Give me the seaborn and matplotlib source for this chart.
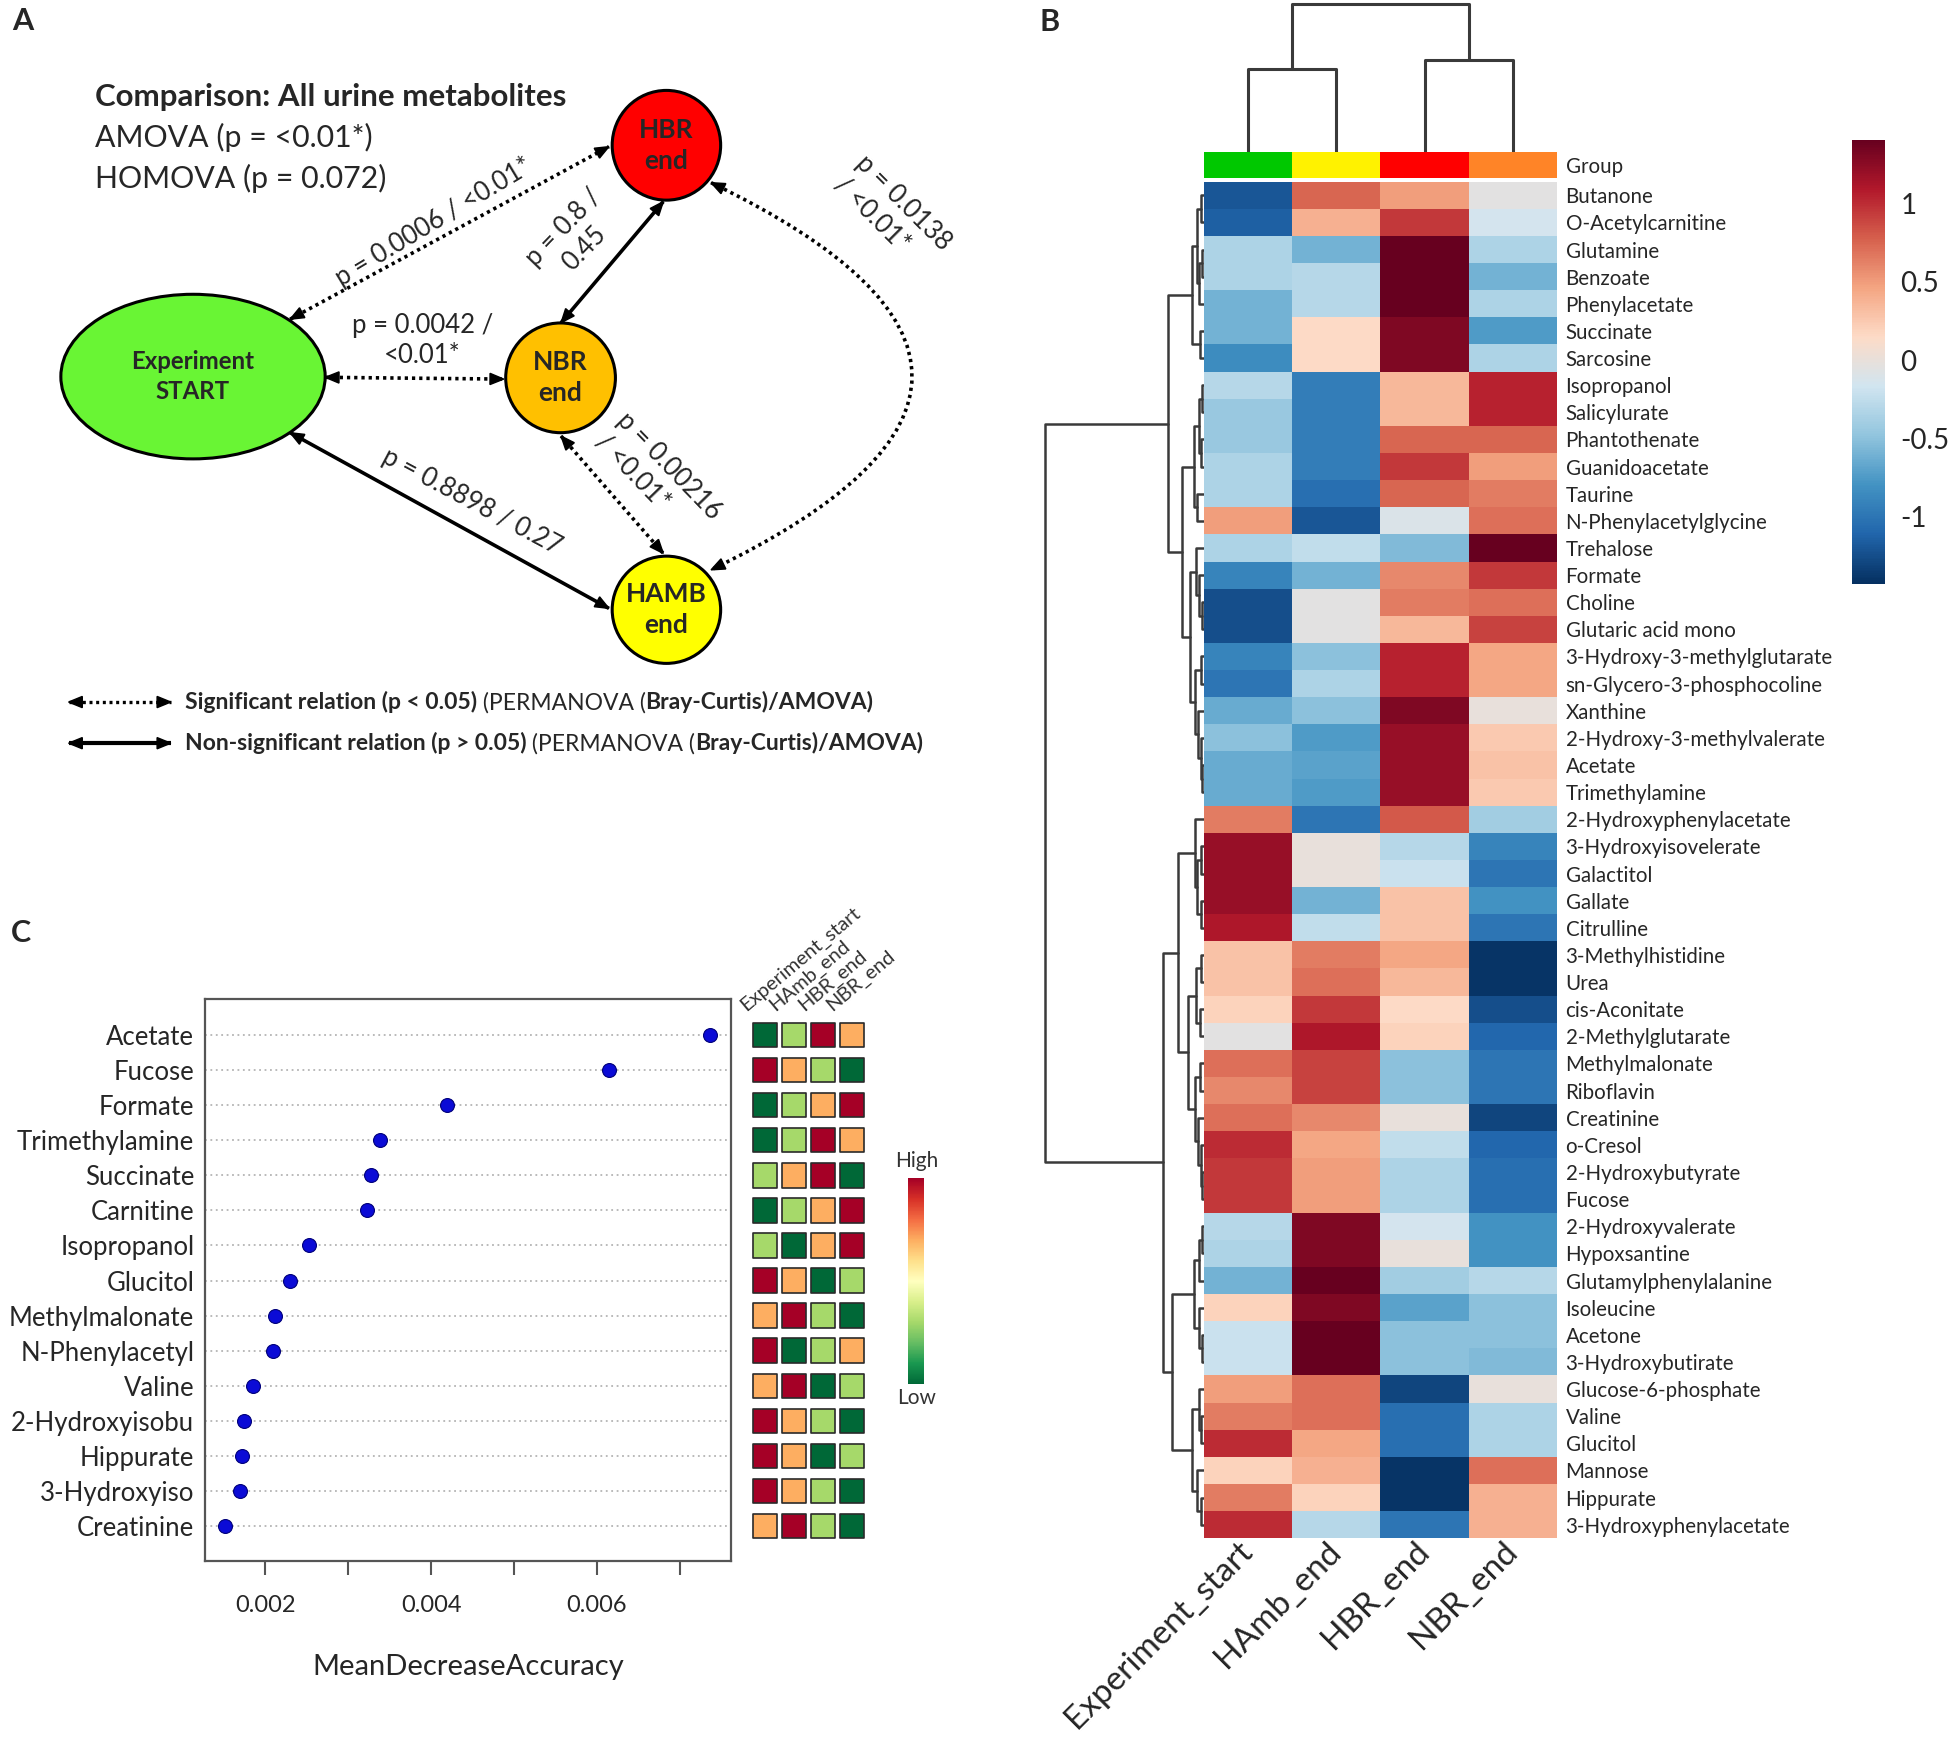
import numpy as np
import pandas as pd
import matplotlib
matplotlib.use('Agg')
import matplotlib.pyplot as plt
import matplotlib.cm as cm
from matplotlib.colors import ListedColormap, LinearSegmentedColormap, Normalize
from matplotlib.patches import Ellipse, PathPatch, Polygon
from matplotlib.path import Path
import seaborn as sns

sns.set_style('white')
plt.rcParams['font.family'] = ['Lato', 'DejaVu Sans']

# ---------------- panel B : heatmap data ----------------
hm_rows = ['Butanone', 'O-Acetylcarnitine', 'Glutamine', 'Benzoate', 'Phenylacetate',
           'Succinate', 'Sarcosine', 'Isopropanol', 'Salicylurate', 'Phantothenate',
           'Guanidoacetate', 'Taurine', 'N-Phenylacetylglycine', 'Trehalose', 'Formate',
           'Choline', 'Glutaric acid mono', '3-Hydroxy-3-methylglutarate',
           'sn-Glycero-3-phosphocoline', 'Xanthine', '2-Hydroxy-3-methylvalerate',
           'Acetate', 'Trimethylamine', '2-Hydroxyphenylacetate', '3-Hydroxyisovelerate',
           'Galactitol', 'Gallate', 'Citrulline', '3-Methylhistidine', 'Urea',
           'cis-Aconitate', '2-Methylglutarate', 'Methylmalonate', 'Riboflavin',
           'Creatinine', 'o-Cresol', '2-Hydroxybutyrate', 'Fucose', '2-Hydroxyvalerate',
           'Hypoxsantine', 'Glutamylphenylalanine', 'Isoleucine', 'Acetone',
           '3-Hydroxybutirate', 'Glucose-6-phosphate', 'Valine', 'Glucitol', 'Mannose',
           'Hippurate', '3-Hydroxyphenylacetate']
hm_cols = ['Experiment_start', 'HAmb_end', 'HBR_end', 'NBR_end']

exp_start = [-1.2, -1.15, -0.35, -0.35, -0.6, -0.6, -0.85, -0.3, -0.45, -0.45,
             -0.35, -0.35, 0.5, -0.35, -0.9, -1.25, -1.25, -0.9, -1.0, -0.65,
             -0.5, -0.65, -0.65, 0.65, 1.2, 1.2, 1.2, 1.1, 0.3, 0.3,
             0.2, -0.05, 0.7, 0.6, 0.7, 1.0, 0.95, 0.95, -0.3, -0.35,
             -0.6, 0.2, -0.2, -0.2, 0.5, 0.65, 1.0, 0.2, 0.65, 1.0]
hamb_end = [0.75, 0.4, -0.6, -0.3, -0.3, 0.15, 0.15, -0.95, -0.95, -0.95,
            -0.95, -1.05, -1.2, -0.25, -0.6, -0.05, -0.05, -0.5, -0.35, -0.5,
            -0.75, -0.7, -0.75, -1.0, 0.0, 0.0, -0.6, -0.25, 0.65, 0.7,
            0.95, 1.1, 0.9, 0.9, 0.6, 0.45, 0.5, 0.5, 1.3, 1.3,
            1.4, 1.3, 1.4, 1.4, 0.7, 0.7, 0.45, 0.4, 0.2, -0.3]
hbr_end = [0.5, 0.95, 1.4, 1.4, 1.4, 1.3, 1.3, 0.35, 0.35, 0.75,
           0.95, 0.75, -0.1, -0.55, 0.6, 0.65, 0.35, 1.05, 1.05, 1.3,
           1.2, 1.2, 1.2, 0.8, -0.3, -0.2, 0.3, 0.3, 0.45, 0.35,
           0.15, 0.2, -0.5, -0.5, 0.0, -0.25, -0.35, -0.35, -0.15, 0.0,
           -0.4, -0.7, -0.5, -0.5, -1.3, -1.05, -1.05, -1.4, -1.4, -1.0]
nbr_end = [-0.05, -0.15, -0.35, -0.6, -0.35, -0.75, -0.35, 1.05, 1.05, 0.75,
           0.5, 0.65, 0.7, 1.4, 0.95, 0.7, 0.9, 0.45, 0.45, 0.0,
           0.25, 0.3, 0.25, -0.4, -0.9, -1.0, -0.8, -1.0, -1.4, -1.4,
           -1.25, -1.1, -1.0, -1.0, -1.3, -1.1, -1.05, -1.05, -0.8, -0.8,
           -0.3, -0.5, -0.5, -0.55, 0.0, -0.35, -0.35, 0.7, 0.4, 0.4]
group_colors = ['#00C800', '#FFF200', '#FF0000', '#FF8427']
rdbu = ['#053061', '#2166AC', '#4393C3', '#92C5DE', '#D1E5F0',
        '#FDDBC7', '#F4A582', '#D6604D', '#B2182B', '#67001F']

# dendrograms: (height, left, right), leaves are row / column indices
row_tree = (127.4,
            (28.5,
             (9.7, (5, (2, 0, 1), (4, (1.5, 2, 3), 4)), (3, 5, 6)),
             (17.7,
              (8, (4, (1.5, 7, 8), (2.5, 9, 10)), (5, 11, 12)),
              (11.3, (6, 13, (3.5, 14, (1.5, 15, 16))),
               (7, (2.5, 17, 18), (4.5, 19, (2, 20, (1, 21, 22))))))),
            (32.5,
             (20.4,
              (7, 23, (5, (2, 24, 25), (2.5, 26, 27))),
              (12.6, (6, (2, 28, 29), (3, 30, 31)),
               (7, (3, 32, 33), (4.5, 34, (2, 35, (1, 36, 37)))))),
             (25.7,
              (8, (3.5, (1.5, 38, 39), 40), (4, 41, (1.5, 42, 43))),
              (9.7, (4, 44, (2, 45, 46)), (5, 47, (2.5, 48, 49))))))
col_tree = (118.4, (66.3, 0, 1), (73.6, 2, 3))

# ---------------- panel C : random forest data ----------------
c_names = ['Acetate', 'Fucose', 'Formate', 'Trimethylamine', 'Succinate', 'Carnitine',
           'Isopropanol', 'Glucitol', 'Methylmalonate', 'N-Phenylacetyl', 'Valine',
           '2-Hydroxyisobu', 'Hippurate', '3-Hydroxyiso', 'Creatinine']
c_mda = [0.00736, 0.00614, 0.00419, 0.00338, 0.00328, 0.00323, 0.00253, 0.00230,
         0.00212, 0.00210, 0.00185, 0.00175, 0.00172, 0.00170, 0.00152]
c_groups = ['Experiment_start', 'HAmb_end', 'HBR_end', 'NBR_end']
# 1 = low ... 4 = high
c_level_exp = [1, 4, 1, 1, 2, 1, 2, 4, 3, 4, 3, 4, 4, 4, 3]
c_level_hamb = [2, 3, 2, 2, 3, 2, 1, 3, 4, 1, 4, 3, 3, 3, 4]
c_level_hbr = [4, 2, 3, 4, 4, 3, 3, 1, 2, 2, 1, 2, 1, 2, 2]
c_level_nbr = [3, 1, 4, 3, 1, 4, 4, 2, 1, 3, 2, 1, 2, 1, 1]
level_colors = {1: '#006837', 2: '#A6D96A', 3: '#FDAE61', 4: '#A50026'}

# ---------------- panel A : group comparison diagram ----------------
nodes = [((154.8, 302), 212, 132, '#69F534', 'Experiment\nSTART', 17.3),
         ((534.5, 116.5), 87, 88, '#FF0000', 'HBR\nend', 19),
         ((449.6, 303), 88, 88, '#FFC000', 'NBR\nend', 19),
         ((534.5, 489), 87, 86, '#FFFF00', 'HAMB\nend', 19)]
edges = [((232.7, 256), (488.4, 117.6), True),
         ((532, 161.7), (450, 258.8), False),
         ((260.9, 302.6), (404, 304), True),
         ((232.7, 347), (488.4, 487.9), False),
         ((450, 349.7), (532, 443.8), True)]
arc = [(570.3, 146.5), (892.7, 301.8), (570.3, 457)]
edge_labels = [(347.8, 177.8, 'p = 0.0006 / <0.01*', 31, 'center'),
               (460.3, 191, 'p = 0.8 /\n0.45', 46, 'center'),
               (339, 272.7, 'p = 0.0042 /\n<0.01*', 0, 'center'),
               (378.5, 402.3, 'p = 0.8898 / 0.27', -28, 'center'),
               (528, 382.3, 'p = 0.00216\n/ <0.01*', -46, 'left'),
               (716, 171, 'p = 0.0138\n/ <0.01*', -45, 'left')]

SW, SH = 1568, 1401


def fig_rect(x0, y0, x1, y1):
    return [x0 / SW, 1 - y1 / SH, (x1 - x0) / SW, (y1 - y0) / SH]


def draw_tree(ax, node, rows):
    if isinstance(node, int):
        return node + 0.5, 0.0
    h, a, b = node
    pa, ha = draw_tree(ax, a, rows)
    pb, hb = draw_tree(ax, b, rows)
    if rows:
        ax.plot([ha, h, h, hb], [pa, pa, pb, pb], color='#3A3A3A', lw=1.8)
    else:
        ax.plot([pa, pa, pb, pb], [ha, h, h, hb], color='#3A3A3A', lw=2.2)
    return (pa + pb) / 2, h


def head(ax, tip, frm, size=11, width=4.5):
    tip = np.array(tip, dtype=float)
    d = tip - np.array(frm, dtype=float)
    d /= np.hypot(*d)
    n = np.array([-d[1], d[0]])
    base = tip - d * size
    ax.add_patch(Polygon([tip, base + n * width, base - n * width], closed=True,
                         facecolor='black', edgecolor='black', zorder=4))


def double_arrow(ax, p0, p1, dotted, lw=2.6):
    ls = (0, (0.9, 1.1)) if dotted else '-'
    ax.plot([p0[0], p1[0]], [p0[1], p1[1]], color='black', lw=lw, ls=ls,
            solid_capstyle='butt')
    head(ax, p0, p1)
    head(ax, p1, p0)


fig = plt.figure(figsize=(19.55, 17.47), dpi=100)

# ================= panel A =================
axa = fig.add_axes(fig_rect(0, 0, 800, 640))
axa.set_xlim(0, 800)
axa.set_ylim(640, 0)
axa.axis('off')

for p0, p1, dotted in edges:
    double_arrow(axa, p0, p1, dotted)
axa.add_patch(PathPatch(Path(arc, [Path.MOVETO, Path.CURVE3, Path.CURVE3]),
                        facecolor='none', edgecolor='black', lw=2.6,
                        ls=(0, (0.9, 1.1))))
head(axa, arc[0], arc[1])
head(axa, arc[2], arc[1])

for (cx, cy), w, h, col, label, fs in nodes:
    axa.add_patch(Ellipse((cx, cy), w, h, facecolor=col, edgecolor='black',
                          lw=2.2, zorder=5))
    axa.text(cx, cy, label, ha='center', va='center', fontsize=fs,
             fontweight='bold', linespacing=1.35, zorder=6)

for x, y, s, rot, ma in edge_labels:
    axa.text(x, y, s, ha='center', va='center', rotation=rot, fontsize=18.5,
             multialignment=ma, linespacing=1.25)

axa.text(76, 78, 'Comparison: All urine metabolites', fontsize=22.5,
         fontweight='bold', va='center')
axa.text(76, 110, 'AMOVA (p = <0.01*)', fontsize=21.8, va='center')
axa.text(76, 143, 'HOMOVA (p = 0.072)', fontsize=21.8, va='center')

# legend of the diagram
double_arrow(axa, (55, 563), (137, 563), True, lw=2.4)
double_arrow(axa, (55, 596), (137, 596), False, lw=3)
for y, first in [(563, 'Significant relation (p < 0.05)'),
                 (596, 'Non-significant relation (p > 0.05)')]:
    t1 = axa.text(148, y, first, fontsize=16.5, fontweight='bold', va='center')
    t2 = axa.annotate(' (PERMANOVA (', xy=(1, 0), xycoords=t1, va='bottom',
                      fontsize=16.5)
    axa.annotate('Bray-Curtis)/AMOVA)', xy=(1, 0), xycoords=t2, va='bottom',
                 fontsize=16.5, fontweight='bold')

# ================= panel B =================
hm = pd.DataFrame({hm_cols[0]: exp_start, hm_cols[1]: hamb_end,
                   hm_cols[2]: hbr_end, hm_cols[3]: nbr_end}, index=hm_rows)
cmap_b = LinearSegmentedColormap.from_list('rdbu10', rdbu)

ax_cd = fig.add_axes(fig_rect(965.4, 0, 1249, 121.6))
draw_tree(ax_cd, col_tree, rows=False)
ax_cd.set_xlim(0, 4)
ax_cd.set_ylim(0, 121.6)
ax_cd.axis('off')

ax_grp = fig.add_axes(fig_rect(965.4, 121.6, 1249, 142.5))
sns.heatmap([[0, 1, 2, 3]], cmap=ListedColormap(group_colors), vmin=0, vmax=3,
            cbar=False, xticklabels=False, yticklabels=['Group'], ax=ax_grp)
ax_grp.yaxis.tick_right()
ax_grp.tick_params(axis='y', length=0, pad=6, labelsize=14.8, labelrotation=0)

ax_hm = fig.add_axes(fig_rect(965.4, 145.7, 1249, 1233.6))
ax_cb = fig.add_axes(fig_rect(1485, 112, 1512, 468))
sns.heatmap(hm, cmap=cmap_b, vmin=-1.43, vmax=1.41, ax=ax_hm, cbar_ax=ax_cb,
            cbar_kws={'ticks': [-1, -0.5, 0, 0.5, 1]},
            xticklabels=True, yticklabels=True)
ax_hm.yaxis.tick_right()
ax_hm.tick_params(axis='y', length=0, pad=6, labelsize=14.8, labelrotation=0)
ax_hm.tick_params(axis='x', length=0, pad=6)
ax_hm.set_xticklabels(hm_cols, rotation=45, ha='right', va='center',
                      rotation_mode='anchor', fontsize=24)
ax_cb.set_yticklabels(['-1', '-0.5', '0', '0.5', '1'])
ax_cb.tick_params(length=0, pad=11, labelsize=20)

ax_rd = fig.add_axes(fig_rect(830, 145.7, 965.4, 1233.6))
draw_tree(ax_rd, row_tree, rows=True)
ax_rd.set_xlim(135.4, 0)
ax_rd.set_ylim(50, 0)
ax_rd.axis('off')

# ================= panel C =================
axc = fig.add_axes(fig_rect(164.8, 801, 586, 1252))
sns.stripplot(x=c_mda, y=c_names, orient='h', jitter=False, size=10,
              color='#0B0BD6', edgecolor='#00007A', linewidth=0.8, ax=axc, zorder=3)
axc.set_ylim(15.0, -1.03)
axc.set_xlim(0.001282, 0.00761)
axc.set_axisbelow(True)
axc.yaxis.grid(True, ls=(0, (1, 2)), color='#B4B4B4', lw=1.3)
axc.xaxis.grid(False)
for s in axc.spines.values():
    s.set_visible(True)
    s.set_color('#555555')
    s.set_linewidth(1.6)
axc.set_xticks([0.002, 0.003, 0.004, 0.005, 0.006, 0.007])
axc.set_xticklabels(['0.002', '', '0.004', '', '0.006', ''])
axc.tick_params(axis='x', bottom=True, direction='out', length=10, width=1.5,
                color='#555555', pad=14, labelsize=17)
axc.tick_params(axis='y', left=False, length=0, pad=8, labelsize=18.5)
axc.set_xlabel('MeanDecreaseAccuracy', fontsize=21)
axc.xaxis.set_label_coords(0.5, -(1336.7 - 1252) / (1252 - 801))
axc.xaxis.label.set_va('center')
axc.set_ylabel('')

mini = pd.DataFrame({'row': np.tile(np.arange(len(c_names)), 4),
                     'col': np.repeat(np.arange(4), len(c_names)),
                     'level': c_level_exp + c_level_hamb + c_level_hbr + c_level_nbr})
axm = fig.add_axes(fig_rect(600, 801, 700, 1252))
sns.scatterplot(data=mini, x='col', y='row', hue='level', palette=level_colors,
                marker='s', s=310, edgecolor='#2A2A2A', linewidth=1.2,
                legend=False, ax=axm)
axm.set_xlim(-0.59, 3.72)
axm.set_ylim(15.0, -1.03)
axm.axis('off')
for j, g in enumerate(c_groups):
    axm.text(j - 0.6, -0.6, g, rotation=40, rotation_mode='anchor',
             ha='left', va='bottom', fontsize=14.5, color='#333333')

ax_hl = fig.add_axes(fig_rect(728, 945, 741, 1110))
cb2 = fig.colorbar(cm.ScalarMappable(norm=Normalize(0, 1), cmap='RdYlGn_r'),
                   cax=ax_hl)
cb2.set_ticks([])
cb2.outline.set_visible(False)
fig.text(735 / SW, 1 - 931 / SH, 'High', ha='center', va='center', fontsize=15,
         color='#333333')
fig.text(735 / SW, 1 - 1121 / SH, 'Low', ha='center', va='center', fontsize=15,
         color='#333333')

# panel letters
for x, y, s in [(10, 17, 'A'), (834, 18, 'B'), (9, 748, 'C')]:
    fig.text(x / SW, 1 - y / SH, s, fontsize=22, fontweight='bold',
             ha='left', va='center')

fig.savefig('out.png', dpi=100)
